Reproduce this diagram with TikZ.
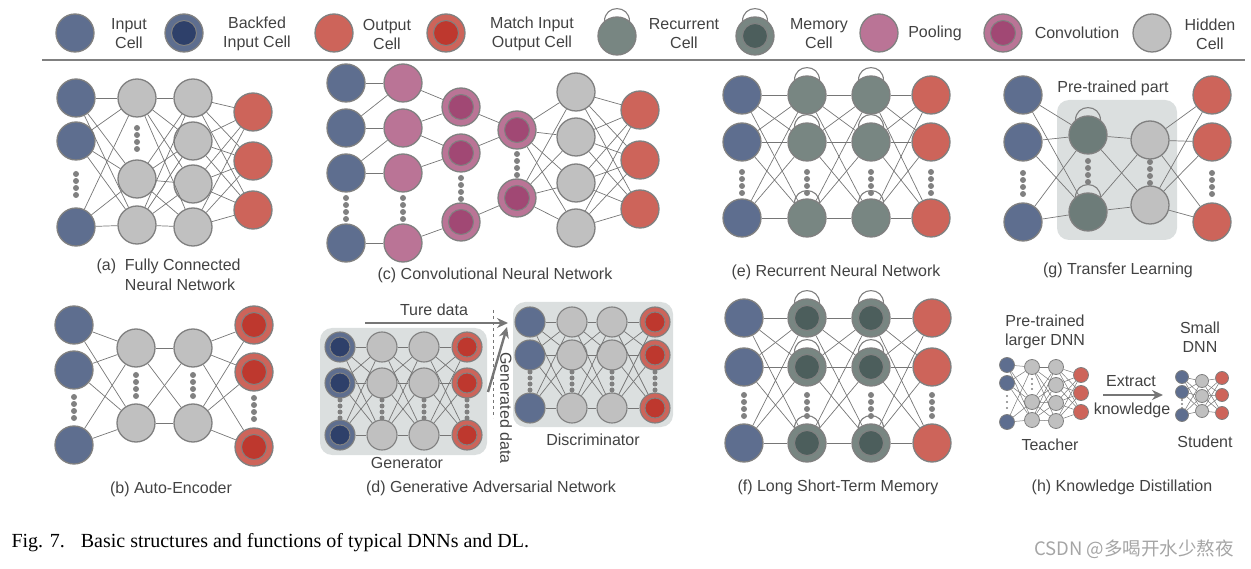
\documentclass[tikz,border=0pt]{standalone}
\usepackage{fontspec}
\setmainfont{Liberation Sans}
\newfontfamily\capfont{Liberation Serif}
\newfontfamily\cjkfont{Noto Sans CJK SC}
\usetikzlibrary{arrows.meta,calc}

\definecolor{incol}{RGB}{94,110,143}
\definecolor{bfcol}{RGB}{46,64,106}
\definecolor{outcol}{RGB}{205,100,90}
\definecolor{matchcol}{RGB}{190,56,46}
\definecolor{reccol}{RGB}{120,134,130}
\definecolor{memcol}{RGB}{76,94,92}
\definecolor{poolcol}{RGB}{186,116,150}
\definecolor{convcol}{RGB}{161,72,116}
\definecolor{hidcol}{RGB}{192,192,192}
\definecolor{cellline}{RGB}{128,128,128}
\definecolor{linkcol}{RGB}{118,118,118}
\definecolor{boxcol}{RGB}{219,223,223}
\definecolor{textcol}{RGB}{66,66,66}
\definecolor{wmcol}{RGB}{165,165,165}

\tikzset{
  cell/.style={circle, draw=cellline, line width=1.3pt, inner sep=0pt, minimum size=38pt},
  gcell/.style={cell, minimum size=30pt, line width=1.1pt},
  kcell/.style={cell, minimum size=15pt, line width=0.8pt},
  scell/.style={cell, minimum size=13pt, line width=0.8pt},
  core/.style 2 args={path picture={\draw[cellline, line width=1pt, fill=#1] (path picture bounding box.center) circle[radius=#2];}},
  incell/.style={fill=incol},
  outcell/.style={fill=outcol},
  hidcell/.style={fill=hidcol},
  reccell/.style={fill=reccol},
  poolcell/.style={fill=poolcol},
  bfcell/.style={fill=incol, core={bfcol}{#1}}, bfcell/.default=12.5pt,
  matchcell/.style={fill=outcol, core={matchcol}{#1}}, matchcell/.default=12.5pt,
  memcell/.style={fill=reccol, core={memcol}{#1}}, memcell/.default=12.5pt,
  convcell/.style={fill=poolcol, core={convcol}{#1}}, convcell/.default=12.5pt,
  link/.style={draw=linkcol, line width=0.7pt},
  selfarc/.style={draw=cellline, line width=1.1pt},
  dot/.style={fill=cellline},
  lab/.style={align=center, text=textcol, font=\fontsize{16}{19}\selectfont},
  subcap/.style={text=textcol, font=\fontsize{16}{20}\selectfont},
  graybox/.style={fill=boxcol, rounded corners=12pt},
  bigarrow/.style={draw=linkcol, line width=2.4pt, -{Stealth[length=11pt,width=10pt]}}
}

\begin{document}
\begin{tikzpicture}[x=1pt, y=-1pt]
\useasboundingbox (0,0) rectangle (1251,569);

% legend
\node[cell, incell] (l-in) at (75,33) {};
\node[lab] (l-in-t) at (129,34) {Input\\Cell};
\node[cell, bfcell] (l-bf) at (184,33) {};
\node[lab] (l-bf-t) at (257,34) {Backfed\\Input Cell};
\node[cell, outcell] (l-out) at (334,33) {};
\node[lab] (l-out-t) at (387,34) {Output\\Cell};
\node[cell, matchcell] (l-mt) at (446,33) {};
\node[lab] (l-mt-t) at (532,34) {Match Input\\Output Cell};
\node[cell, reccell] (l-rec) at (617,36) {};
\node[lab] (l-rec-t) at (684,34) {Recurrent\\Cell};
\node[cell, memcell] (l-mem) at (755,36) {};
\node[lab] (l-mem-t) at (819,34) {Memory\\Cell};
\node[cell, poolcell] (l-pool) at (879,33) {};
\node[lab] (l-pool-t) at (935,33) {Pooling};
\node[cell, convcell] (l-conv) at (1003,33) {};
\node[lab] (l-conv-t) at (1077,33) {Convolution};
\node[cell, hidcell] (l-hid) at (1152,33) {};
\node[lab] (l-hid-t) at (1210,34) {Hidden\\Cell};
\draw[cellline, line width=1.4pt] (42,60) -- (1245,60);

% (a) fully connected
\foreach \n/\y in {1/98,2/141,3/227} \node[cell, incell] (a-i\n) at (76,\y) {};
\foreach \n/\y in {1/98,2/179,3/225} \node[cell, hidcell] (a-h\n) at (137,\y) {};
\foreach \n/\y in {1/98,2/141,3/184,4/227} \node[cell, hidcell] (a-g\n) at (193,\y) {};
\foreach \n/\y in {1/112,2/161,3/210} \node[cell, outcell] (a-o\n) at (253,\y) {};
\foreach \k in {0,...,3} \fill[dot] (76,{174+7*\k}) circle[radius=3pt];
\foreach \k in {0,...,3} \fill[dot] (137,{128+7*\k}) circle[radius=3pt];
\foreach \s in {1,2,3} \foreach \t in {1,2,3} \draw[link] (a-i\s) -- (a-h\t);
\foreach \s in {1,2,3} \foreach \t in {1,...,4} \draw[link] (a-h\s) -- (a-g\t);
\foreach \s in {1,...,4} \foreach \t in {1,2,3} \draw[link] (a-g\s) -- (a-o\t);
\node[subcap, anchor=base west] (a-cap) at (93,271) {(a)~~\begin{tabular}[t]{@{}l@{}}Fully Connected\\Neural Network\end{tabular}};

% (b) auto-encoder
\foreach \n/\y in {1/325,2/370,3/445} \node[cell, incell] (b-i\n) at (74,\y) {};
\foreach \n/\y in {1/348,2/423} \node[cell, hidcell] (b-h\n) at (136,\y) {};
\foreach \n/\y in {1/348,2/423} \node[cell, hidcell] (b-g\n) at (193,\y) {};
\foreach \n/\y in {1/325,2/372,3/447} \node[cell, matchcell] (b-o\n) at (254,\y) {};
\foreach \x/\y in {74/397,136/375,193/375,254/398} \foreach \k in {0,...,3} \fill[dot] (\x,{\y+7*\k}) circle[radius=3pt];
\foreach \s in {1,2,3} \foreach \t in {1,2} \draw[link] (b-i\s) -- (b-h\t);
\foreach \s in {1,2} \foreach \t in {1,2} \draw[link] (b-h\s) -- (b-g\t);
\foreach \s in {1,2} \foreach \t in {1,2,3} \draw[link] (b-g\s) -- (b-o\t);
\node[subcap] (b-cap) at (171,489) {(b) Auto-Encoder};

% (c) convolutional
\foreach \n/\y in {1/83,2/128,3/173,4/243} \node[cell, incell] (c-i\n) at (346,\y) {};
\foreach \n/\y in {1/83,2/128,3/173,4/243} \node[cell, poolcell] (c-p\n) at (403,\y) {};
\foreach \n/\y in {1/107,2/153,3/222} \node[cell, convcell] (c-c\n) at (461,\y) {};
\foreach \n/\y in {1/130,2/198} \node[cell, convcell] (c-d\n) at (517,\y) {};
\foreach \n/\y in {1/92,2/137,3/183,4/228} \node[cell, hidcell] (c-h\n) at (576,\y) {};
\foreach \n/\y in {1/110,2/160,3/209} \node[cell, outcell] (c-o\n) at (640,\y) {};
\foreach \x/\y in {346/198,403/198,461/178,517/154} \foreach \k in {0,...,3} \fill[dot] (\x,{\y+7*\k}) circle[radius=3pt];
\foreach \s/\t in {1/1,2/1,2/2,3/2,3/3,4/4} \draw[link] (c-i\s) -- (c-p\t);
\foreach \s/\t in {1/1,2/1,2/2,3/2,4/3} \draw[link] (c-p\s) -- (c-c\t);
\foreach \s/\t in {1/1,2/1,3/2} \draw[link] (c-c\s) -- (c-d\t);
\foreach \s in {1,2} \foreach \t in {1,...,4} \draw[link] (c-d\s) -- (c-h\t);
\foreach \s in {1,...,4} \foreach \t in {1,2,3} \draw[link] (c-h\s) -- (c-o\t);
\node[subcap] (c-cap) at (495,275) {(c) Convolutional Neural Network};

% (d) GAN
\fill[graybox] (320,328) rectangle (487,455);
\fill[graybox] (513,302) rectangle (673,427);
\foreach \n/\y in {1/347,2/383,3/435} {
  \node[gcell, bfcell=10pt] (d-i\n) at (340,\y) {};
  \node[gcell, hidcell] (d-h\n) at (382,\y) {};
  \node[gcell, hidcell] (d-g\n) at (424,\y) {};
  \node[gcell, matchcell=10pt] (d-o\n) at (467,\y) {};
}
\foreach \n/\y in {1/322,2/355,3/408} {
  \node[gcell, incell] (e-i\n) at (530,\y) {};
  \node[gcell, hidcell] (e-h\n) at (572,\y) {};
  \node[gcell, hidcell] (e-g\n) at (612,\y) {};
  \node[gcell, matchcell=10pt] (e-o\n) at (655,\y) {};
}
\foreach \x in {340,382,424,467} \foreach \k in {0,...,3} \fill[dot] (\x,{400+6*\k}) circle[radius=2.5pt];
\foreach \x in {530,572,612,655} \foreach \k in {0,...,3} \fill[dot] (\x,{372+6*\k}) circle[radius=2.5pt];
\foreach \s in {1,2,3} \foreach \t in {1,2,3} {
  \draw[link] (d-i\s) -- (d-h\t); \draw[link] (d-h\s) -- (d-g\t); \draw[link] (d-g\s) -- (d-o\t);
  \draw[link] (e-i\s) -- (e-h\t); \draw[link] (e-h\s) -- (e-g\t); \draw[link] (e-g\s) -- (e-o\t);
}
\draw[linkcol, dashed, line width=0.8pt] (493,310) -- (493,418);
\coordinate (d-src) at (365,323);
\coordinate (d-tip) at (508,323);
\coordinate (d-gen) at (488,392);
\coordinate (d-tip2) at (507,327);
\draw[bigarrow] (d-src) -- (d-tip);
\draw[bigarrow] (d-gen) -- (d-tip2);
\node[subcap] (d-true) at (434,310) {Ture data};
\node[subcap, rotate=-90] (d-gent) at (506,408) {Generated data};
\node[subcap] (d-dis) at (593,440) {Discriminator};
\node[subcap] (d-gnr) at (407,463) {Generator};
\node[subcap] (d-cap) at (491,488) {(d) Generative Adversarial Network};

% (e) recurrent
\foreach \n/\y in {1/95,2/142,3/218} {
  \node[cell, incell] (f-i\n) at (742,\y) {};
  \node[cell, reccell] (f-r\n) at (807,\y) {};
  \node[cell, reccell] (f-s\n) at (871,\y) {};
  \node[cell, outcell] (f-o\n) at (931,\y) {};
}
\foreach \x in {742,807,871,931} \foreach \k in {0,...,3} \fill[dot] (\x,{172+7*\k}) circle[radius=3pt];
\foreach \s in {1,2,3} \foreach \t in {1,2,3} {
  \draw[link] (f-i\s) -- (f-r\t); \draw[link] (f-r\s) -- (f-s\t); \draw[link] (f-s\s) -- (f-o\t);
}
\node[subcap] (f-cap) at (836,272) {(e) Recurrent Neural Network};

% (f) LSTM
\foreach \n/\y in {1/318,2/367,3/443} {
  \node[cell, incell] (m-i\n) at (744,\y) {};
  \node[cell, memcell] (m-r\n) at (807,\y) {};
  \node[cell, memcell] (m-s\n) at (871,\y) {};
  \node[cell, outcell] (m-o\n) at (932,\y) {};
}
\foreach \x in {744,807,871,932} \foreach \k in {0,...,3} \fill[dot] (\x,{395+7*\k}) circle[radius=3pt];
\foreach \s in {1,2,3} \foreach \t in {1,2,3} {
  \draw[link] (m-i\s) -- (m-r\t); \draw[link] (m-r\s) -- (m-s\t); \draw[link] (m-s\s) -- (m-o\t);
}
\node[subcap] (m-cap) at (838,487) {(f) Long Short-Term Memory};

% (g) transfer learning
\fill[graybox] (1057,100) rectangle (1177,240);
\foreach \n/\y in {1/95,2/142,3/222} \node[cell, incell] (g-i\n) at (1023,\y) {};
\foreach \n/\y in {1/135,2/212} \node[cell, fill=reccol!75!memcol] (g-r\n) at (1088,\y) {};
\foreach \n/\y in {1/140,2/205} \node[cell, hidcell] (g-h\n) at (1150,\y) {};
\foreach \n/\y in {1/95,2/142,3/222} \node[cell, outcell] (g-o\n) at (1212,\y) {};
\foreach \x/\y in {1023/173,1088/161,1150/162,1212/173} \foreach \k in {0,...,3} \fill[dot] (\x,{\y+7*\k}) circle[radius=3pt];
\foreach \s in {1,2,3} \foreach \t in {1,2} \draw[link] (g-i\s) -- (g-r\t);
\foreach \s in {1,2} \foreach \t in {1,2} \draw[link] (g-r\s) -- (g-h\t);
\foreach \s in {1,2} \foreach \t in {1,2,3} \draw[link] (g-h\s) -- (g-o\t);
\node[subcap] (g-pre) at (1113,88) {Pre-trained part};
\node[subcap] (g-cap) at (1118,270) {(g) Transfer Learning};

% self loops
\foreach \n in {l-rec,l-mem,f-r1,f-r2,f-r3,f-s1,f-s2,f-s3,m-r1,m-r2,m-r3,m-s1,m-s2,m-s3,g-r1,g-r2}
  \draw[selfarc] ($(\n.north)+(-12.5,5)$) .. controls +(0,-17) and +(0,-17) .. ($(\n.north)+(12.5,5)$);

% (h) knowledge distillation
\foreach \n/\y in {1/365,2/383,3/422} \node[kcell, incell] (k-i\n) at (1007,\y) {};
\foreach \n/\y in {1/367,2/402,3/420} \node[kcell, hidcell] (k-h\n) at (1032,\y) {};
\foreach \n/\y in {1/367,2/385,3/403,4/421} \node[kcell, hidcell] (k-g\n) at (1056,\y) {};
\foreach \n/\y in {1/375,2/393,3/412} \node[kcell, outcell] (k-o\n) at (1081,\y) {};
\foreach \k in {0,...,2} \fill[dot] (1007,{396+6*\k}) circle[radius=1.2pt];
\foreach \k in {0,...,2} \fill[dot] (1032,{379+5*\k}) circle[radius=1.2pt];
\foreach \s in {1,2,3} \foreach \t in {1,2,3} \draw[link, line width=0.5pt] (k-i\s) -- (k-h\t);
\foreach \s in {1,2,3} \foreach \t in {1,...,4} \draw[link, line width=0.5pt] (k-h\s) -- (k-g\t);
\foreach \s in {1,...,4} \foreach \t in {1,2,3} \draw[link, line width=0.5pt] (k-g\s) -- (k-o\t);
\foreach \n/\y in {1/377,2/392,3/415} \node[scell, incell] (s-i\n) at (1182,\y) {};
\foreach \n/\y in {1/381,2/396,3/411} \node[scell, hidcell] (s-h\n) at (1202,\y) {};
\foreach \n/\y in {1/378,2/395,3/413} \node[scell, outcell] (s-o\n) at (1222,\y) {};
\foreach \k in {0,...,2} \fill[dot] (1182,{400+4*\k}) circle[radius=1.1pt];
\foreach \s in {1,2,3} \foreach \t in {1,2,3} {
  \draw[link, line width=0.5pt] (s-i\s) -- (s-h\t); \draw[link, line width=0.5pt] (s-h\s) -- (s-o\t);
}
\coordinate (k-from) at (1103,395);
\coordinate (k-to) at (1163,395);
\draw[bigarrow, line width=2pt] (k-from) -- (k-to);
\node[lab] (k-big) at (1045,332) {Pre-trained\\larger DNN};
\node[lab] (k-small) at (1200,337) {Small\\DNN};
\node[subcap] (k-ext) at (1131,381) {Extract};
\node[subcap] (k-know) at (1132,410) {knowledge};
\node[subcap] (k-tea) at (1050,445) {Teacher};
\node[subcap] (k-stu) at (1205,442) {Student};
\node[subcap] (k-cap) at (1122,487) {(h) Knowledge Distillation};

% figure caption
\node[anchor=base west, font=\capfont\fontsize{20}{24}\selectfont] (fig) at (8,547) {Fig. 7.\hspace{16pt}Basic structures and functions of typical DNNs and DL.};
\node[text=wmcol, font=\cjkfont\fontsize{18.5}{22}\selectfont] (wm) at (1134,549) {CSDN @多喝开水少熬夜};
\end{tikzpicture}
\end{document}
